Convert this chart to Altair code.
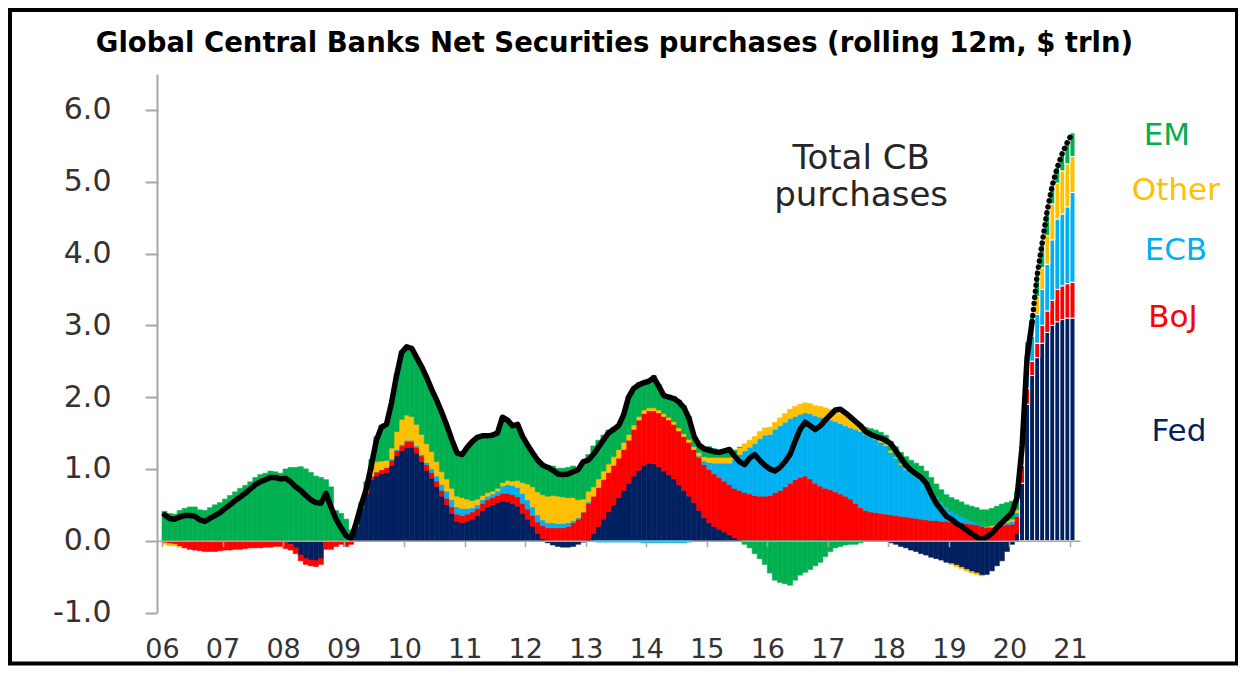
import altair as alt
import pandas as pd

title_text = "Global Central Banks Net Securities purchases (rolling 12m, $ trln)"
series_names = ["Fed", "BoJ", "ECB", "Other", "EM"]
series_colors = ["#002060", "#FF0000", "#00B0F0", "#FFC000", "#00B050"]
year_ticks = list(range(2006, 2022))
y_ticks = [-1, 0, 1, 2, 3, 4, 5, 6]
first_year = 2006
n_months = 181
proj_start = 170   # first month index drawn as separated (projected) bars
solid_end = 172    # last month index of the solid total line

# monthly values, Jan 2006 .. Jan 2021 ($ trln, rolling 12m)
fed = [
    0, 0, 0, 0, 0, 0, 0, 0, 0, 0, 0, 0,
    0, 0, 0, 0, 0, 0, 0, 0, 0, 0, 0, 0,
    -0.03, -0.05, -0.1, -0.2, -0.25, -0.27, -0.28, -0.25, 0, 0, 0, 0,
    0, 0, 0.2, 0.45, 0.65, 0.85, 0.9, 0.93, 0.95, 1.05, 1.18, 1.25,
    1.3, 1.3, 1.22, 1.1, 0.98, 0.87, 0.75, 0.62, 0.5, 0.38, 0.27, 0.25,
    0.27, 0.3, 0.35, 0.42, 0.47, 0.5, 0.53, 0.55, 0.54, 0.52, 0.48, 0.38,
    0.3, 0.2, 0.1, 0.03, -0.03, -0.06, -0.08, -0.09, -0.09, -0.08, -0.05, -0.02,
    0.02, 0.1, 0.2, 0.3, 0.4, 0.5, 0.6, 0.7, 0.8, 0.9, 0.98, 1.05,
    1.08, 1.07, 1.03, 0.97, 0.92, 0.86, 0.78, 0.7, 0.62, 0.53, 0.42, 0.32,
    0.25, 0.2, 0.16, 0.12, 0.08, 0.04, 0.02, 0, 0, 0, 0, 0,
    0, 0, 0, 0, 0, 0, 0, 0, 0, 0, 0, 0,
    0, 0, 0, 0, 0, 0, 0, 0, 0, 0, 0, -0.01,
    -0.03, -0.05, -0.08, -0.1, -0.13, -0.15, -0.18, -0.2, -0.23, -0.25, -0.27, -0.3,
    -0.32, -0.34, -0.37, -0.4, -0.43, -0.45, -0.48, -0.47, -0.42, -0.35, -0.28, -0.15,
    -0.05, 0.1, 0.8, 1.9, 2.3, 2.55, 2.75, 2.9, 3.0, 3.05, 3.08, 3.1,
    3.1,
]
boj = [
    -0.03, -0.04, -0.05, -0.08, -0.1, -0.12, -0.13, -0.14, -0.15, -0.15, -0.15, -0.14,
    -0.13, -0.13, -0.12, -0.12, -0.11, -0.1, -0.1, -0.1, -0.09, -0.09, -0.08, -0.08,
    -0.08, -0.08, -0.08, -0.08, -0.08, -0.08, -0.08, -0.08, -0.12, -0.12, -0.08, -0.05,
    -0.08, -0.05, 0, 0.02, 0.04, 0.05, 0.06, 0.06, 0.07, 0.07, 0.07, 0.07,
    0.08, 0.08, 0.08, 0.08, 0.08, 0.08, 0.08, 0.08, 0.09, 0.09, 0.1, 0.1,
    0.1, 0.1, 0.1, 0.1, 0.1, 0.1, 0.1, 0.11, 0.12, 0.12, 0.13, 0.14,
    0.14, 0.15, 0.16, 0.18, 0.18, 0.18, 0.18, 0.18, 0.2, 0.25, 0.3, 0.4,
    0.5, 0.52, 0.54, 0.55, 0.55, 0.55, 0.55, 0.57, 0.6, 0.65, 0.7, 0.72,
    0.73, 0.74, 0.75, 0.76, 0.76, 0.76, 0.75, 0.75, 0.75, 0.74, 0.74, 0.74,
    0.74, 0.73, 0.72, 0.71, 0.7, 0.69, 0.68, 0.67, 0.65, 0.63, 0.62, 0.62,
    0.63, 0.67, 0.7, 0.75, 0.8, 0.85, 0.88, 0.9, 0.86, 0.8, 0.76, 0.73,
    0.71, 0.68, 0.65, 0.62, 0.58, 0.52, 0.46, 0.42, 0.4, 0.39, 0.38, 0.37,
    0.36, 0.35, 0.34, 0.33, 0.32, 0.31, 0.3, 0.29, 0.28, 0.28, 0.27, 0.27,
    0.26, 0.25, 0.25, 0.24, 0.23, 0.22, 0.2, 0.19, 0.19, 0.2, 0.21, 0.22,
    0.23, 0.24, 0.25, 0.22, 0.2, 0.2, 0.25, 0.3, 0.35, 0.45, 0.47, 0.48,
    0.5,
]
ecb = [
    0, 0, 0, 0, 0, 0, 0, 0, 0, 0, 0, 0,
    0, 0, 0, 0, 0, 0, 0, 0, 0, 0, 0, 0,
    0, 0, 0, 0, 0, 0, 0, 0, 0, 0, 0, 0,
    0, 0, 0, 0, 0, 0, 0, 0, 0, 0.02, 0.02, 0.02,
    0.02, 0.02, 0.02, 0.02, 0.03, 0.05, 0.07, 0.08, 0.1, 0.1, 0.1, 0.1,
    0.08, 0.06, 0.05, 0.05, 0.05, 0.05, 0.06, 0.1, 0.12, 0.13, 0.13, 0.14,
    0.13, 0.12, 0.1, 0.08, 0.07, 0.07, 0.06, 0.06, 0.05, 0.03, 0.02, 0,
    0.02, -0.01, -0.02, -0.02, -0.02, -0.02, -0.02, -0.02, -0.02, -0.02, -0.02, -0.03,
    -0.03, -0.03, -0.03, -0.03, -0.03, -0.03, -0.03, -0.03, -0.02, 0, 0.02, 0.05,
    0.1, 0.15, 0.2, 0.25, 0.3, 0.4, 0.5, 0.58, 0.65, 0.72, 0.8, 0.85,
    0.85, 0.88, 0.9, 0.9, 0.9, 0.88, 0.88, 0.88, 0.91, 0.94, 0.96, 0.97,
    0.97, 0.98, 0.98, 0.98, 0.99, 1.03, 1.06, 1.06, 1.05, 1.02, 0.99, 0.95,
    0.87, 0.8, 0.72, 0.66, 0.62, 0.58, 0.55, 0.5, 0.42, 0.33, 0.26, 0.19,
    0.15, 0.12, 0.09, 0.06, 0.04, 0.02, 0.01, 0, 0, 0.01, 0.02, 0.03,
    0.04, 0.05, 0.1, 0.3, 0.35, 0.4, 0.5, 0.65, 0.84, 0.98, 1.0, 1.07,
    1.25,
]
other = [
    -0.02, -0.03, -0.02, -0.01, 0, 0, 0, 0, 0, 0, 0, 0,
    0, 0, 0, 0, 0, 0, 0, 0, 0, 0, 0, 0,
    0, 0, 0, 0, 0, 0, 0, 0, 0, 0, 0, 0,
    0, 0, 0, 0.01, 0.03, 0.08, 0.14, 0.12, 0.1, 0.15, 0.25, 0.35,
    0.35, 0.33, 0.3, 0.28, 0.26, 0.24, 0.2, 0.18, 0.17, 0.16, 0.15, 0.15,
    0.13, 0.1, 0.08, 0.06, 0.05, 0.04, 0.04, 0.05, 0.06, 0.06, 0.1, 0.15,
    0.22, 0.28, 0.32, 0.35, 0.37, 0.38, 0.38, 0.37, 0.35, 0.32, 0.25, 0.18,
    0.15, 0.13, 0.12, 0.12, 0.12, 0.12, 0.12, 0.1, 0.08, 0.06, 0.05, 0.05,
    0.04, 0.04, 0.04, 0.04, 0.04, 0.04, 0.04, 0.04, 0.04, 0.04, 0.05, 0.06,
    0.07, 0.08, 0.08, 0.08, 0.08, 0.08, 0.1, 0.1, 0.1, 0.1, 0.1, 0.1,
    0.1, 0.1, 0.11, 0.12, 0.13, 0.14, 0.14, 0.14, 0.14, 0.14, 0.15, 0.15,
    0.15, 0.15, 0.14, 0.14, 0.13, 0.12, 0.1, 0.08, 0.06, 0.05, 0.04, 0.03,
    0.03, 0.02, 0.02, 0.02, 0.01, 0.01, 0.01, 0, 0, 0, 0, 0,
    -0.01, -0.02, -0.02, -0.02, -0.02, -0.02, -0.01, 0.01, 0.02, 0.02, 0.03, 0.03,
    0.03, 0.04, 0.05, 0.15, 0.2, 0.25, 0.3, 0.4, 0.5, 0.5, 0.6, 0.6,
    0.5,
]
em = [
    0.41, 0.38, 0.37, 0.42, 0.45, 0.47, 0.47, 0.43, 0.42, 0.46, 0.5, 0.53,
    0.58, 0.63, 0.68, 0.73, 0.77, 0.82, 0.88, 0.92, 0.94, 0.97, 0.96, 0.94,
    1.0, 1.02, 1.02, 1.03, 1.0, 0.95, 0.9, 0.88, 0.85, 0.75, 0.42, 0.38,
    0.3, 0.15, 0.03, 0.05, 0.1, 0.15, 0.35, 0.5, 0.5, 0.6, 0.8, 0.95,
    0.95, 0.95, 0.93, 0.94, 0.92, 0.86, 0.85, 0.82, 0.74, 0.67, 0.6, 0.6,
    0.72, 0.82, 0.86, 0.83, 0.79, 0.78, 0.77, 0.91, 0.84, 0.77, 0.78, 0.64,
    0.54, 0.47, 0.44, 0.41, 0.43, 0.41, 0.39, 0.4, 0.42, 0.44, 0.42, 0.49,
    0.51, 0.57, 0.54, 0.5, 0.47, 0.41, 0.35, 0.4, 0.54, 0.51, 0.47, 0.4,
    0.4, 0.45, 0.36, 0.28, 0.31, 0.35, 0.39, 0.39, 0.32, 0.14, 0.1, 0.11,
    0.15, 0.12, 0.1, 0.1, 0.08, 0.05, 0, -0.05, -0.1, -0.18, -0.25, -0.33,
    -0.45, -0.55, -0.58, -0.6, -0.62, -0.55, -0.48, -0.44, -0.4, -0.35, -0.3, -0.22,
    -0.15, -0.1, -0.08, -0.06, -0.05, -0.05, -0.03, 0.02, 0.05, 0.08, 0.1, 0.12,
    0.12, 0.14, 0.15, 0.16, 0.17, 0.18, 0.18, 0.18, 0.18, 0.18, 0.18, 0.18,
    0.19, 0.2, 0.2, 0.2, 0.21, 0.22, 0.22, 0.23, 0.24, 0.25, 0.25, 0.25,
    0.25, 0.25, 0.2, 0.2, 0.1, 0.3, 0.35, 0.35, 0.26, 0.22, 0.25, 0.3,
    0.33,
]
total = [
    0.36, 0.31, 0.3, 0.33, 0.35, 0.35, 0.34, 0.29, 0.27, 0.31, 0.35, 0.39,
    0.45, 0.5, 0.56, 0.61, 0.66, 0.72, 0.78, 0.82, 0.85, 0.88, 0.88, 0.86,
    0.87, 0.82, 0.75, 0.7, 0.63, 0.57, 0.53, 0.52, 0.66, 0.47, 0.3, 0.18,
    0.07, 0.03, 0.25, 0.5, 0.72, 1.05, 1.4, 1.58, 1.62, 1.92, 2.3, 2.62,
    2.7, 2.68, 2.55, 2.42, 2.27, 2.1, 1.95, 1.78, 1.6, 1.4, 1.22, 1.2,
    1.3, 1.38, 1.44, 1.46, 1.46, 1.47, 1.5, 1.72, 1.68, 1.6, 1.62, 1.45,
    1.33, 1.22, 1.12, 1.05, 1.02, 0.98, 0.93, 0.92, 0.93, 0.96, 0.99, 1.1,
    1.12, 1.2, 1.3, 1.4, 1.5, 1.55, 1.6, 1.75, 2.0, 2.12, 2.17, 2.2,
    2.22, 2.27, 2.15, 2.02, 2.0, 1.98, 1.93, 1.85, 1.7, 1.45, 1.33, 1.28,
    1.26, 1.24, 1.23, 1.25, 1.27, 1.18, 1.1, 1.06, 1.15, 1.2, 1.12, 1.05,
    1.0, 0.97, 1.02, 1.1, 1.2, 1.38, 1.55, 1.65, 1.6, 1.55, 1.6, 1.68,
    1.75, 1.82, 1.83, 1.78, 1.72, 1.66, 1.6, 1.52, 1.48, 1.45, 1.43, 1.4,
    1.35, 1.25, 1.15, 1.05, 0.98, 0.93, 0.88, 0.8, 0.65, 0.52, 0.43, 0.34,
    0.3, 0.24, 0.2, 0.15, 0.1, 0.05, 0.01, 0.05, 0.1, 0.18, 0.25, 0.32,
    0.39, 0.6, 1.3, 2.55, 3.05, 3.7, 4.15, 4.6, 4.95, 5.2, 5.4, 5.55,
    5.68,
]

label_names = ["EM", "Other", "ECB", "BoJ", "Fed"]
label_y = [5.63, 4.87, 4.03, 3.10, 1.52]
label_x = [2022.6, 2022.75, 2022.75, 2022.7, 2022.8]
note_lines = ["Total CB", "purchases"]
note_y = [5.31, 4.80]
note_x = [2017.55, 2017.55]

# ---- tables built from the arrays ----
rows = []
for k, (name, vals) in enumerate(zip(series_names, [fed, boj, ecb, other, em])):
    for m, v in enumerate(vals):
        rows.append({"m": m, "series": name, "ord": k, "value": v})
bars_df = pd.DataFrame(rows)
line_df = pd.DataFrame({"m": list(range(len(total))), "total": total})
lab_df = pd.DataFrame({"name": label_names, "series": label_names, "x": label_x, "y": label_y})
note_df = pd.DataFrame({"txt": note_lines, "x": note_x, "y": note_y})

W, H = 923, 538.5
x_max = first_year + n_months / 12
zero_off = -H * 1 / 7.5

xscale = alt.Scale(domain=[first_year, x_max], nice=False, zero=False)
yscale = alt.Scale(domain=[-1, 6.5], nice=False, zero=False)
cscale = alt.Scale(domain=series_names, range=series_colors)

xaxis = alt.Axis(values=year_ticks, labelExpr="substring(toString(datum.value), 2, 4)",
                 title=None, offset=zero_off, tickSize=6, tickColor="#A6A6A6", tickWidth=1.5,
                 domainColor="#A6A6A6", domainWidth=1.5, labelPadding=90,
                 labelFont="DejaVu Sans", labelFontSize=27, labelColor="#333333",
                 grid=False, zindex=1, labelFlush=False, labelOverlap=False)
yaxis = alt.Axis(values=y_ticks,
                 labelExpr="datum.value < 0 ? '-' + format(-datum.value, '.1f') : format(datum.value, '.1f')",
                 title=None, tickSize=12, tickColor="#A6A6A6", tickWidth=2,
                 domainColor="#A6A6A6", domainWidth=2, labelPadding=34,
                 labelFont="DejaVu Sans", labelFontSize=30, labelColor="#333333",
                 grid=False, zindex=1)

bar_base = alt.Chart(bars_df).transform_calculate(
    t0=f"{first_year} + datum.m / 12", t1=f"{first_year} + (datum.m + 1) / 12"
)
bar_enc = dict(
    x=alt.X("t0:Q", scale=xscale, axis=xaxis),
    x2="t1:Q",
    y=alt.Y("value:Q", stack="zero", scale=yscale, axis=yaxis),
    color=alt.Color("series:N", scale=cscale, legend=None),
    order=alt.Order("ord:Q"),
)
bars_actual = bar_base.transform_filter(f"datum.m < {proj_start}").mark_bar(
    orient="vertical", strokeWidth=0.6).encode(
    stroke=alt.Stroke("series:N", scale=cscale, legend=None), **bar_enc)
bars_proj = bar_base.transform_filter(f"datum.m >= {proj_start}").mark_bar(
    orient="vertical", stroke="white", strokeWidth=1).encode(**bar_enc)

line_base = alt.Chart(line_df).transform_calculate(tc=f"{first_year} + (datum.m + 0.5) / 12")
line_enc = dict(x=alt.X("tc:Q", scale=xscale, axis=xaxis), y=alt.Y("total:Q", scale=yscale, axis=yaxis))
line_solid = line_base.transform_filter(f"datum.m <= {solid_end}").mark_line(
    color="black", strokeWidth=5.5, strokeJoin="round", strokeCap="round").encode(**line_enc)
line_dot = line_base.transform_filter(f"datum.m >= {solid_end}").mark_line(
    color="black", strokeWidth=5.5, strokeDash=[0.1, 6], strokeCap="round").encode(**line_enc)

labels = alt.Chart(lab_df).mark_text(font="DejaVu Sans", fontSize=31, align="center", baseline="middle").encode(
    x=alt.X("x:Q", scale=xscale, axis=xaxis), y=alt.Y("y:Q", scale=yscale, axis=yaxis),
    text="name:N", color=alt.Color("series:N", scale=cscale, legend=None))
note = alt.Chart(note_df).mark_text(font="DejaVu Sans", fontSize=34, align="center", baseline="middle",
                                    color="#262626").encode(
    x=alt.X("x:Q", scale=xscale, axis=xaxis), y=alt.Y("y:Q", scale=yscale, axis=yaxis), text="txt:N")

title_mark = alt.Chart(pd.DataFrame({"t": [title_text]})).mark_text(
    font="DejaVu Sans", fontSize=27.5, fontWeight="bold", color="black",
    align="center", baseline="alphabetic").encode(
    text="t:N", x=alt.value(W / 2 - 4), y=alt.value(-22))

frame = alt.Chart(pd.DataFrame({"k": [0]})).mark_rect(fill="transparent", stroke="black", strokeWidth=4).encode(
    x=alt.value(-147), x2=alt.value(W + 157), y=alt.value(-64), y2=alt.value(H + 51))

chart = alt.layer(bars_actual, bars_proj, line_solid, line_dot, labels, note, title_mark, frame).properties(
    width=W, height=H,
    padding={"left": 149, "top": 66, "right": 158, "bottom": 53},
    autosize=alt.AutoSizeParams(type="none"),
).configure_view(stroke=None).configure_axisY(labelPadding=34)

chart.save("out.html", embed_options={"renderer": "svg", "actions": False})
